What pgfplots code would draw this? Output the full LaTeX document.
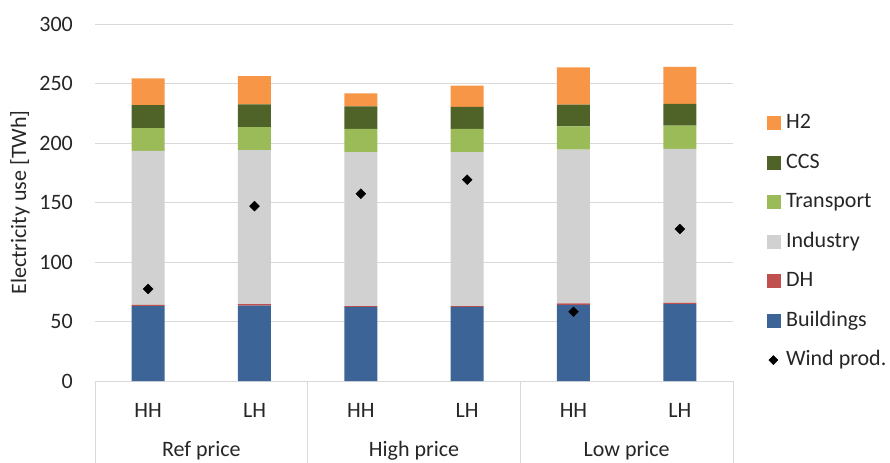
\documentclass[border=0pt]{standalone}
\usepackage{fontspec}
\setmainfont{Carlito}
\usepackage{pgfplots}
\pgfplotsset{compat=1.18}
\definecolor{cB}{HTML}{3C6496}
\definecolor{cDH}{HTML}{C0504D}
\definecolor{cInd}{HTML}{D0D1D0}
\definecolor{cT}{HTML}{9BBB59}
\definecolor{cCCS}{HTML}{4F6228}
\definecolor{cH2}{HTML}{F79646}
\definecolor{gridc}{HTML}{D9D9D9}
\definecolor{txt}{HTML}{262626}
\begin{document}
\fontsize{22bp}{26bp}\selectfont
\begin{tikzpicture}
\useasboundingbox (-95bp,-82bp) rectangle (795bp,381bp);
\pgfplotsset{common/.style={scale only axis, width=638bp, height=357bp,
  xmin=-0.5, xmax=5.5, ymin=0, ymax=300, at={(0,0)}, anchor=south west}}
\begin{axis}[common, ybar stacked, bar width=33bp, clip=false,
  axis line style={draw=none},
  ytick={0,50,...,300}, ymajorgrids, grid style={gridc, line width=0.75bp},
  major tick style={draw=none},
  xtick={0,...,5}, xticklabels={HH,LH,HH,LH,HH,LH},
  xticklabel style={anchor=center, yshift=-29bp, text=txt},
  yticklabel style={anchor=east, inner sep=0pt, xshift=-22bp, text=txt},
  /pgf/number format/assume math mode=true,
  ylabel={Electricity use [TWh]},
  ylabel style={at={(axis description cs:-0.1176,0.5)}, anchor=center, text=txt},
  legend cell align=left,
  legend style={draw=none, fill=none, at={(1.0528,0.749)}, anchor=north west,
    inner sep=0pt, outer sep=0pt, row sep=20.5bp, column sep=6bp,
    nodes={inner sep=0pt, text height=15bp, text depth=4bp, anchor=west, text=txt}},
]
\addlegendimage{legend image code/.code={\fill[cH2] (0bp,-6.5bp) rectangle (13bp,6.5bp);}}
\addlegendentry{H2}
\addlegendimage{legend image code/.code={\fill[cCCS] (0bp,-6.5bp) rectangle (13bp,6.5bp);}}
\addlegendentry{CCS}
\addlegendimage{legend image code/.code={\fill[cT] (0bp,-6.5bp) rectangle (13bp,6.5bp);}}
\addlegendentry{Transport}
\addlegendimage{legend image code/.code={\fill[cInd] (0bp,-6.5bp) rectangle (13bp,6.5bp);}}
\addlegendentry{Industry}
\addlegendimage{legend image code/.code={\fill[cDH] (0bp,-6.5bp) rectangle (13bp,6.5bp);}}
\addlegendentry{DH}
\addlegendimage{legend image code/.code={\fill[cB] (0bp,-6.5bp) rectangle (13bp,6.5bp);}}
\addlegendentry{Buildings}
\addlegendimage{legend image code/.code={\fill[black] (6.5bp,4.5bp) -- (11bp,0bp) -- (6.5bp,-4.5bp) -- (2bp,0bp) -- cycle;}}
\addlegendentry{Wind prod.}

\addplot[fill=cB, draw=none, forget plot] coordinates {(0,63.0) (1,63.3) (2,62.2) (3,62.2) (4,63.9) (5,64.5)};
\addplot[fill=cDH, draw=none, forget plot] coordinates {(0,0.9) (1,1.4) (2,0.8) (3,0.8) (4,1.4) (5,1.2)};
\addplot[fill=cInd, draw=none, forget plot] coordinates {(0,129.4) (1,129.4) (2,129.4) (3,129.4) (4,129.1) (5,129.3)};
\addplot[fill=cT, draw=none, forget plot] coordinates {(0,19.3) (1,19.3) (2,19.4) (3,19.4) (4,19.6) (5,19.5)};
\addplot[fill=cCCS, draw=none, forget plot] coordinates {(0,19.3) (1,19.1) (2,19.0) (3,18.5) (4,18.2) (5,18.3)};
\addplot[fill=cH2, draw=none, forget plot] coordinates {(0,22.5) (1,23.8) (2,11.0) (3,17.9) (4,31.4) (5,31.1)};

\draw[gridc, line width=0.75bp] (axis cs:-0.5,0) -- ([yshift=-82bp]axis cs:-0.5,0);
\draw[gridc, line width=0.75bp] (axis cs:1.5,0) -- ([yshift=-82bp]axis cs:1.5,0);
\draw[gridc, line width=0.75bp] (axis cs:3.5,0) -- ([yshift=-82bp]axis cs:3.5,0);
\draw[gridc, line width=0.75bp] (axis cs:5.5,0) -- ([yshift=-82bp]axis cs:5.5,0);
\node[text=txt] at ([yshift=-70bp]axis cs:0.5,0) {Ref price};
\node[text=txt] at ([yshift=-70bp]axis cs:2.5,0) {High price};
\node[text=txt] at ([yshift=-70bp]axis cs:4.5,0) {Low price};
\end{axis}
\begin{axis}[common, hide axis, clip=false]
\addplot[only marks, mark=square*, mark size=3.5bp, mark options={rotate=45, fill=black, draw=none}]
  coordinates {(0,77.3) (1,147.0) (2,157.4) (3,169.2) (4,58.2) (5,127.7)};
\end{axis}
\end{tikzpicture}
\end{document}
